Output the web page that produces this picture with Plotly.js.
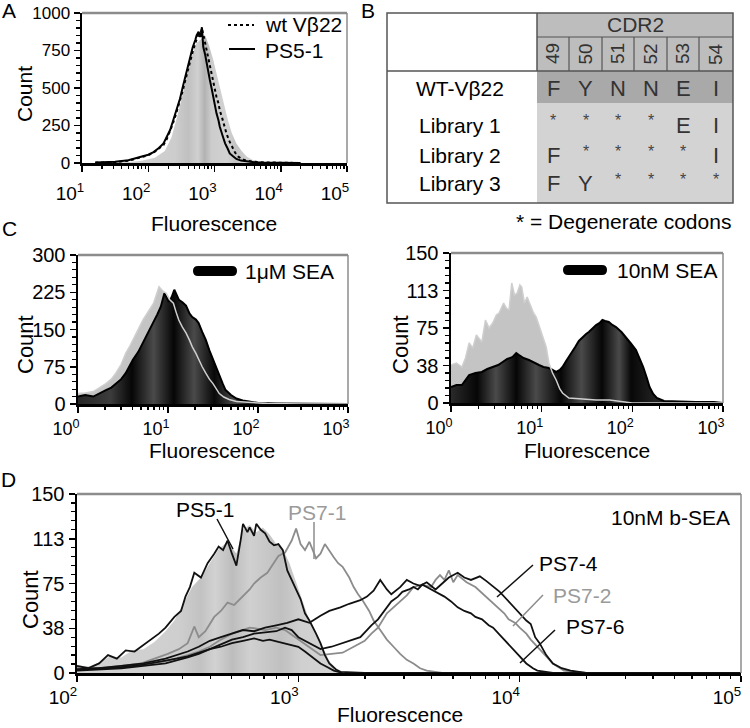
<!DOCTYPE html>
<html><head><meta charset="utf-8">
<script src="https://cdn.plot.ly/plotly-3.0.1.min.js"></script>
<style>html,body{margin:0;padding:0;background:#fff}#chart{width:750px;height:728px}</style>
</head><body><div id="chart"></div>
<script>
// ---------- Panel A data (log10 fluorescence, count) ----------
const aGrayLog   = [1.3,1.5,1.7,1.9,2.1,2.25,2.35,2.45,2.55,2.65,2.73,2.8,2.86,2.92,2.98,3.04,3.1,3.15,3.2,3.26,3.33,3.41,3.49,3.58,3.69,3.85,4.0,4.2];
const aGrayCount = [1,3,6,15,35,80,170,330,520,700,800,830,850,780,690,580,465,375,290,200,130,80,42,20,9,3,1,0];
const aWtLog   = [1.2,1.5,1.7,1.88,2.0,2.08,2.16,2.23,2.28,2.33,2.37,2.41,2.45,2.48,2.52,2.56,2.6,2.63,2.67,2.71,2.74,2.76,2.78,2.81,2.83,2.86,2.88,2.91,2.93,2.96,2.98,3.01,3.03,3.06,3.08,3.11,3.14,3.18,3.22,3.26,3.31,3.36,3.42,3.49,3.6,3.75,4.0,4.3];
const aWtCount = [2,6,15,38,52,69,95,120,160,209,260,313,370,415,480,553,620,687,740,798,830,864,840,898,860,798,740,687,630,575,530,487,440,398,350,309,260,198,150,109,70,42,25,15,8,4,1,0];
const aPs51Log   = [1.2,1.5,1.7,1.88,2.0,2.08,2.16,2.23,2.28,2.33,2.37,2.41,2.45,2.48,2.52,2.56,2.6,2.63,2.67,2.71,2.73,2.76,2.79,2.81,2.83,2.86,2.88,2.9,2.93,2.96,2.98,3.01,3.03,3.06,3.08,3.12,3.16,3.2,3.23,3.28,3.33,3.4,3.49,3.6,3.7,4.0,4.3];
const aPs51Count = [3,8,18,40,55,73,100,130,170,220,275,330,380,430,505,577,640,710,770,820,850,875,842,905,775,720,665,610,553,490,442,380,331,285,242,185,131,95,64,45,27,16,9,5,3,1,0];

// ---------- Panel C (left) data : 1 uM SEA ----------
const c1Log = [0.0,0.08,0.17,0.24,0.31,0.37,0.42,0.48,0.53,0.58,0.61,0.67,0.72,0.78,0.84,0.88,0.92,0.96,1.01,1.04,1.07,1.1,1.12,1.16,1.2,1.24,1.27,1.31,1.34,1.38,1.42,1.46,1.5,1.54,1.57,1.61,1.64,1.7,1.76,1.83,1.9,2.0,2.2,2.6,3.0];
const c1SeaCount = [15,18,15,22,28,33,41,50,62,78,89,105,123,142,163,180,196,223,206,215,230,218,210,205,198,182,175,170,163,145,129,108,89,70,55,40,28,18,11,7,5,2,1,0.5,0];
const c1CtrlLog = [0.0,0.08,0.17,0.24,0.31,0.37,0.42,0.48,0.53,0.58,0.61,0.67,0.72,0.78,0.84,0.88,0.9,0.94,0.98,1.02,1.06,1.09,1.12,1.16,1.2,1.24,1.27,1.31,1.34,1.38,1.42,1.46,1.5,1.54,1.57,1.62,1.68,1.76,1.9,2.1,2.5,3.0];
const c1CtrlCount = [21,22,25,33,41,50,62,80,102,118,129,150,169,186,203,225,236,228,223,210,203,185,169,155,143,128,115,102,89,75,62,50,41,30,21,14,9,5,3,1,0,0];

// ---------- Panel C (right) data : 10 nM SEA ----------
const c2CtrlLog = [0.0,0.06,0.12,0.16,0.2,0.24,0.28,0.31,0.34,0.38,0.42,0.46,0.5,0.53,0.56,0.58,0.61,0.64,0.67,0.7,0.73,0.76,0.78,0.81,0.84,0.88,0.91,0.94,0.99,1.02,1.05,1.08,1.12,1.16,1.2,1.23,1.3,1.45,1.6,1.75,1.85,2.0,3.0];
const c2CtrlCount = [38,40,36,45,60,55,68,64,61,83,75,80,88,90,96,100,95,93,120,108,110,118,116,100,106,96,90,86,73,64,56,40,30,23,14,10,5,4,3,3,2,0,0];
const c2SeaLog = [0.0,0.06,0.12,0.2,0.27,0.34,0.4,0.46,0.52,0.57,0.62,0.68,0.72,0.75,0.8,0.86,0.92,0.97,1.02,1.08,1.12,1.16,1.2,1.23,1.27,1.3,1.34,1.37,1.41,1.45,1.49,1.52,1.56,1.6,1.64,1.67,1.7,1.74,1.78,1.82,1.88,1.93,1.98,2.04,2.08,2.12,2.16,2.19,2.23,2.27,2.35,2.5,2.7,2.9,3.0];
const c2SeaCount = [16,18,18,28,30,31,34,36,38,41,44,46,50,48,45,43,40,38,36,35,33,31,33,36,42,46,51,56,62,66,69,71,75,78,80,83,82,81,78,76,71,66,60,53,45,36,25,16,9,5,2,1.5,1,1,0];

// ---------- Panel D data : 10 nM b-SEA ----------
const dGrayLog   = [2.0,2.05,2.1,2.15,2.2,2.25,2.3,2.35,2.4,2.44,2.48,2.52,2.56,2.6,2.64,2.68,2.72,2.75,2.78,2.81,2.84,2.87,2.9,2.93,2.96,2.99,3.02,3.05,3.08,3.11,3.14,3.17,3.2,3.3];
const dGrayCount = [7,5,9,14,13,19,20,26,35,44,58,72,80,92,104,110,100,120,124,118,122,116,108,104,92,76,60,44,34,22,10,4,1,0];
const dPs51Log   = [2.0,2.05,2.1,2.14,2.18,2.22,2.26,2.29,2.33,2.37,2.4,2.44,2.47,2.49,2.51,2.53,2.56,2.59,2.62,2.64,2.66,2.68,2.7,2.72,2.74,2.75,2.77,2.78,2.8,2.81,2.83,2.85,2.87,2.89,2.91,2.93,2.95,2.97,2.99,3.01,3.03,3.05,3.08,3.1,3.12,3.14,3.17,3.19,3.3,5.0];
const dPs51Count = [6,4,8,15,12,19,18,22,27,33,38,47,52,64,72,84,80,92,100,106,103,111,100,90,112,125,118,122,115,125,120,117,110,107,108,103,86,78,70,62,50,44,33,25,15,8,3,1,0,0];
const dPs71Log   = [2.0,2.1,2.2,2.29,2.35,2.41,2.46,2.5,2.53,2.55,2.58,2.62,2.65,2.68,2.71,2.75,2.78,2.8,2.83,2.86,2.88,2.91,2.94,2.97,2.99,3.01,3.03,3.05,3.08,3.1,3.12,3.14,3.16,3.18,3.2,3.23,3.25,3.27,3.29,3.32,3.34,3.37,3.4,3.43,3.46,3.49,3.52,3.55,3.58,3.65];
const dPs71Count = [5,4,6,8,12,16,20,25,39,30,35,47,52,59,57,64,70,75,80,84,90,98,101,111,121,108,103,110,96,100,108,102,97,92,89,80,72,66,61,52,44,36,28,22,16,11,8,4,2,0];
const dPs74Log   = [2.0,2.1,2.2,2.3,2.4,2.5,2.55,2.6,2.65,2.7,2.75,2.8,2.85,2.9,2.95,3.0,3.05,3.1,3.14,3.19,3.23,3.28,3.31,3.34,3.37,3.4,3.42,3.46,3.49,3.52,3.55,3.58,3.62,3.65,3.68,3.72,3.75,3.78,3.82,3.85,3.87,3.91,3.94,3.96,4.0,4.03,4.05,4.07,4.09,4.12,4.15,4.19,4.23,4.3];
const dPs74Count = [3,4,6,8,12,18,22,27,30,33,36,35,38,40,42,45,42,48,52,55,58,61,64,69,78,70,66,72,78,75,73,76,70,75,80,84,80,78,81,77,74,68,62,58,50,44,41,30,25,15,8,4,2,0];
const dPs72Log   = [2.0,2.1,2.2,2.3,2.4,2.5,2.55,2.6,2.65,2.7,2.75,2.78,2.82,2.85,2.9,2.94,2.97,3.0,3.05,3.1,3.15,3.2,3.25,3.3,3.33,3.36,3.4,3.43,3.46,3.49,3.52,3.56,3.6,3.62,3.64,3.66,3.68,3.7,3.72,3.76,3.8,3.83,3.85,3.88,3.9,3.93,3.95,3.98,4.0,4.03,4.05,4.08,4.1,4.13,4.15,4.2,4.3];
const dPs72Count = [3,4,5,7,10,15,18,22,28,33,36,38,37,36,38,36,32,28,22,15,16,17,22,27,33,38,50,55,60,65,72,74,72,78,82,78,86,76,82,76,72,67,63,58,55,50,45,42,38,33,28,22,18,12,8,2,0];
const dPs76Log   = [2.0,2.1,2.2,2.3,2.4,2.5,2.55,2.6,2.65,2.7,2.75,2.8,2.85,2.9,2.94,2.97,3.0,3.05,3.1,3.15,3.2,3.25,3.28,3.31,3.33,3.36,3.38,3.4,3.42,3.45,3.47,3.5,3.52,3.54,3.56,3.58,3.6,3.63,3.66,3.69,3.72,3.75,3.78,3.8,3.83,3.86,3.88,3.91,3.93,3.96,3.98,4.01,4.03,4.06,4.08,4.15];
const dPs76Count = [2,3,4,6,8,13,16,20,24,28,30,33,34,35,38,36,30,25,20,22,25,28,30,36,40,45,50,55,60,64,68,70,72,70,74,72,70,67,64,60,55,52,50,47,45,40,38,32,28,22,18,12,8,4,2,0];
const dLowLog    = [2.0,2.1,2.2,2.3,2.4,2.45,2.5,2.55,2.6,2.65,2.7,2.75,2.8,2.84,2.87,2.91,2.95,3.0,3.03,3.06,3.1,3.13,3.16,3.2];
const dLowCount  = [3,4,5,7,10,12,14,17,20,22,25,27,29,27,28,26,24,22,18,14,8,5,2,0];

// ---------- Table (panel B) ----------
const cdrPositions = ['49','50','51','52','53','54'];
const rowLabels = ['WT-Vβ22','Library 1','Library 2','Library 3'];
const rowResidues = [
  ['F','Y','N','N','E','I'],
  ['*','*','*','*','E','I'],
  ['F','*','*','*','*','I'],
  ['F','Y','*','*','*','*']
];

// ---------- tick labels ----------
const tickA = [10,100,1000,10000,100000], tickAText = ['10<sup>1</sup>','10<sup>2</sup>','10<sup>3</sup>','10<sup>4</sup>','10<sup>5</sup>'];
const tickC = [1,10,100,1000], tickCText = ['10<sup>0</sup>','10<sup>1</sup>','10<sup>2</sup>','10<sup>3</sup>'];
const tickD = [100,1000,10000,100000], tickDText = ['10<sup>2</sup>','10<sup>3</sup>','10<sup>4</sup>','10<sup>5</sup>'];
const yTickA = [0,250,500,750,1000];
const yTickC1 = [0,75,150,225,300];
const yTick150 = [0,37.5,75,112.5,150], yTick150Text = ['0','38','75','113','150'];

// ---------- helpers ----------
const W = 750, H = 728;
const FONT = 'Liberation Sans, Arial, sans-serif';
const px = v => v / W;
const py = v => 1 - v / H;
const lin = e => e.map(v => Math.pow(10, v));

function xAx(d0, d1, range, anchor, tv, tt, size, shift, standoff) {
  return {domain:[px(d0), px(d1)], type:'log', range, anchor, tickmode:'array', tickvals:tv, ticktext:tt,
    ticks:'outside', ticklen:6, tickwidth:1.5, tickcolor:'#000', showline:true, linecolor:'#000', linewidth:2.5,
    showgrid:false, zeroline:false, fixedrange:true,
    minor:{ticks:'outside', ticklen:3.5, tickwidth:1.2, tickcolor:'#000', dtick:'D1', showgrid:false},
    tickfont:{family:FONT, size, color:'#000'}, ticklabelshift:shift, ticklabelstandoff:standoff};
}
function yAx(d0, d1, range, anchor, tv, tt, minorStep, size) {
  return {domain:[py(d1), py(d0)], range, anchor, tickmode:'array', tickvals:tv, ticktext:tt,
    ticks:'outside', ticklen:6, tickwidth:1.5, tickcolor:'#000', showline:true, linecolor:'#000', linewidth:2.5,
    showgrid:false, zeroline:false, fixedrange:true,
    minor:{ticks:'outside', ticklen:3.5, tickwidth:1.2, tickcolor:'#000', dtick:minorStep, showgrid:false},
    tickfont:{family:FONT, size, color:'#000'}};
}

const traces = [];
// Panel A
traces.push({x:lin(aGrayLog), y:aGrayCount, xaxis:'x', yaxis:'y', type:'scatter', mode:'lines', line:{width:0, color:'rgba(0,0,0,0)'},
  fill:'tozeroy', fillcolor:'#cfcfcf',
  fillgradient:{type:'horizontal', colorscale:[[0,'#d4d4d4'],[0.38,'#cdcdcd'],[0.45,'#c0c0c0'],[0.5,'#d0d0d0'],[0.535,'#b2b2b2'],[0.57,'#cccccc'],[0.65,'#d2d2d2'],[0.7,'#c3c3c3'],[0.78,'#d4d4d4'],[1,'#d8d8d8']]},
  hoverinfo:'skip', showlegend:false});
traces.push({x:lin(aWtLog), y:aWtCount, xaxis:'x', yaxis:'y', type:'scatter', mode:'lines', line:{width:2, color:'#000', dash:'dot'}, showlegend:false, hoverinfo:'skip'});
traces.push({x:lin(aPs51Log), y:aPs51Count, xaxis:'x', yaxis:'y', type:'scatter', mode:'lines', line:{width:2, color:'#000'}, showlegend:false, hoverinfo:'skip'});

// Panel C left
traces.push({x:lin(c1CtrlLog), y:c1CtrlCount, xaxis:'x2', yaxis:'y2', type:'scatter', mode:'lines', line:{width:0, color:'rgba(0,0,0,0)'}, fill:'tozeroy', fillcolor:'#c4c4c4', hoverinfo:'skip', showlegend:false});
traces.push({x:lin(c1Log), y:c1SeaCount, xaxis:'x2', yaxis:'y2', type:'scatter', mode:'lines', line:{width:2, color:'#000'}, fill:'tozeroy', fillcolor:'#222',
  fillgradient:{type:'horizontal', colorscale:[[0,'#262626'],[0.12,'#3c3c3c'],[0.2,'#060606'],[0.28,'#4a4a4a'],[0.355,'#060606'],[0.43,'#4a4a4a'],[0.505,'#080808'],[0.58,'#4a4a4a'],[0.66,'#111111'],[1,'#111111']]},
  hoverinfo:'skip', showlegend:false});
traces.push({x:lin(c1CtrlLog), y:c1CtrlCount, xaxis:'x2', yaxis:'y2', type:'scatter', mode:'lines', line:{width:1.5, color:'#cfcfcf'}, hoverinfo:'skip', showlegend:false});

// Panel C right
traces.push({x:lin(c2CtrlLog), y:c2CtrlCount, xaxis:'x3', yaxis:'y3', type:'scatter', mode:'lines', line:{width:0, color:'rgba(0,0,0,0)'}, fill:'tozeroy', fillcolor:'#c4c4c4', hoverinfo:'skip', showlegend:false});
traces.push({x:lin(c2SeaLog), y:c2SeaCount, xaxis:'x3', yaxis:'y3', type:'scatter', mode:'lines', line:{width:2, color:'#000'}, fill:'tozeroy', fillcolor:'#222',
  fillgradient:{type:'horizontal', colorscale:[[0,'#2a2a2a'],[0.096,'#060606'],[0.165,'#4a4a4a'],[0.24,'#060606'],[0.3125,'#4a4a4a'],[0.404,'#060606'],[0.48,'#4a4a4a'],[0.555,'#060606'],[0.618,'#4a4a4a'],[0.662,'#080808'],[0.75,'#222222'],[1,'#111111']]},
  hoverinfo:'skip', showlegend:false});
traces.push({x:lin(c2CtrlLog), y:c2CtrlCount, xaxis:'x3', yaxis:'y3', type:'scatter', mode:'lines', line:{width:1.5, color:'#cfcfcf'}, hoverinfo:'skip', showlegend:false});

// Panel D
traces.push({x:lin(dGrayLog), y:dGrayCount, xaxis:'x4', yaxis:'y4', type:'scatter', mode:'lines', line:{width:0, color:'rgba(0,0,0,0)'}, fill:'tozeroy', fillcolor:'#cccccc',
  fillgradient:{type:'horizontal', colorscale:[[0,'#d2d2d2'],[0.35,'#cfcfcf'],[0.43,'#c2c2c2'],[0.48,'#d2d2d2'],[0.54,'#bdbdbd'],[0.6,'#d0d0d0'],[0.71,'#c0c0c0'],[0.78,'#d0d0d0'],[1,'#d4d4d4']]},
  hoverinfo:'skip', showlegend:false});
const dLine = (xl, yc, col) => ({x:lin(xl), y:yc, xaxis:'x4', yaxis:'y4', type:'scatter', mode:'lines', line:{width:1.8, color:col}, hoverinfo:'skip', showlegend:false});
traces.push(dLine(dPs71Log, dPs71Count, '#8c8c8c'));
traces.push(dLine(dPs72Log, dPs72Count, '#8c8c8c'));
traces.push(dLine(dLowLog, dLowCount, '#111'));
traces.push(dLine(dPs76Log, dPs76Count, '#111'));
traces.push(dLine(dPs74Log, dPs74Count, '#111'));
traces.push(dLine(dPs51Log, dPs51Count, '#111'));

// ---------- shapes ----------
const shapes = [];
const seg = (x0,y0,x1,y1,color,width,dash) => shapes.push({type:'line', xref:'paper', yref:'paper', x0:px(x0), y0:py(y0), x1:px(x1), y1:py(y1), line:{color, width, dash:dash||'solid'}});
const box = (x0,y0,x1,y1,fill) => shapes.push({type:'rect', xref:'paper', yref:'paper', x0:px(x0), y0:py(y0), x1:px(x1), y1:py(y1), fillcolor:fill, line:{width:0}, layer:'below'});
// gray top/right frames
[[82,13,347,163],[78,255,348,404],[451,253,723,403],[77,494,741,673]].forEach(([l,t,r,b]) => {
  seg(l,t,r,t,'#8c8c8c',2.5);
  seg(r,t,r,b,'#8c8c8c',1.5);
});
// A legend samples
seg(228,25,254,25,'#000',2,'dot');
seg(229,49,255,49,'#000',2);
// C legend bars (rounded)
function pill(x0,x1,yc,h){
  const r = h/2;
  const P = (x,y) => px(x)+','+py(y);
  shapes.push({type:'path', xref:'paper', yref:'paper', fillcolor:'#000', line:{width:0},
    path:'M'+P(x0+r,yc-r)+' L'+P(x1-r,yc-r)+' Q'+P(x1,yc-r)+' '+P(x1,yc)+' Q'+P(x1,yc+r)+' '+P(x1-r,yc+r)+' L'+P(x0+r,yc+r)+' Q'+P(x0,yc+r)+' '+P(x0,yc)+' Q'+P(x0,yc-r)+' '+P(x0+r,yc-r)+' Z'});
}
pill(193,237,271,10);
pill(563,607,270,10);
// D leader lines
seg(217,519,233,549,'#111',1.5);
seg(314,522,314,559,'#8c8c8c',1.5);
seg(533,565,497,597,'#111',1.5);
seg(543,595,513,626,'#8c8c8c',1.5);
seg(555,630,520,663,'#111',1.5);

// Table
const tL=387, tT=13, tR=733, tB=203, cL=537, hMid=37, hBot=71, wtBot=103;
const colEdges=[537,569,602,634,667,699,733];
const rowY=[88,125,155,183];
box(cL,tT,tR,hBot,'#bdbdbd');
box(cL,hBot,tR,wtBot,'#a9a9a9');
box(cL,wtBot,tR,tB,'#d3d3d3');
shapes.push({type:'rect', xref:'paper', yref:'paper', x0:px(tL), y0:py(tT), x1:px(tR), y1:py(tB), line:{color:'#555', width:1.5}});
seg(tL,hBot,tR,hBot,'#555',1.5);
seg(cL,tT,cL,hBot,'#555',1.5);
seg(cL,hMid,tR,hMid,'#555',1.2);
colEdges.slice(1,-1).forEach(x => seg(x,hMid,x,hBot,'#555',1.2));

// ---------- annotations ----------
const ann = [];
const txt = (x,y,text,size,opts) => ann.push(Object.assign({xref:'paper', yref:'paper', x:px(x), y:py(y), text, showarrow:false,
  xanchor:'center', yanchor:'middle', font:{family:FONT, size, color:'#000'}}, opts||{}));
// panel letters
txt(9,11,'A',21); txt(368,11,'B',21); txt(9,228,'C',21); txt(8,479,'D',21);
// axis titles
txt(25,94,'Count',21,{textangle:-90});
txt(214,223,'Fluorescence',21);
txt(25,345,'Count',22,{textangle:-90});
txt(212,450,'Fluorescence',21);
txt(400,345,'Count',22,{textangle:-90});
txt(587,450,'Fluorescence',21);
txt(30,600,'Count',22,{textangle:-90});
txt(400,714,'Fluorescence',21);
// legends
txt(263,25,'wt Vβ22',21,{xanchor:'left'});
txt(263,51,'PS5-1',21,{xanchor:'left'});
txt(243,271,'1μM SEA',21,{xanchor:'left'});
txt(615,270,'10nM SEA',21,{xanchor:'left'});
// D labels
txt(205,510,'PS5-1',21);
txt(317,512,'PS7-1',21,{font:{family:FONT,size:21,color:'#9a9a9a'}});
txt(568,563,'PS7-4',21);
txt(582,595,'PS7-2',21,{font:{family:FONT,size:21,color:'#9a9a9a'}});
txt(595,626,'PS7-6',21);
txt(732,517,'10nM b-SEA',21,{xanchor:'right'});
// table texts
txt((cL+tR)/2,25,'CDR2',21,{font:{family:FONT,size:21,color:'#333'}});
cdrPositions.forEach((p,i) => txt((colEdges[i]+colEdges[i+1])/2,54,p,19,{textangle:-90, font:{family:FONT,size:19,color:'#333'}}));
rowLabels.forEach((lab,r) => {
  txt(460,rowY[r],lab,21);
  rowResidues[r].forEach((res,c) => {
    const cx=(colEdges[c]+colEdges[c+1])/2;
    if (res === '*') txt(cx,rowY[r]-4,res,16,{font:{family:FONT,size:16,color:'#444'}});
    else txt(cx,rowY[r],res,22,{font:{family:FONT,size:22,color:'#333'}});
  });
});
txt(733,221,'* = Degenerate codons',21,{xanchor:'right'});

const layout = {
  width:W, height:H, margin:{l:0,r:0,t:0,b:0}, paper_bgcolor:'#fff', plot_bgcolor:'rgba(0,0,0,0)',
  showlegend:false, font:{family:FONT, color:'#000'},
  xaxis: xAx(82,347,[1,5],'y',tickA,tickAText,19,-12,6),
  yaxis: yAx(13,163,[0,1000],'x',yTickA,yTickA.map(String),50,17),
  xaxis2: xAx(78,348,[0,3],'y2',tickC,tickCText,18,-12,1),
  yaxis2: yAx(255,404,[0,300],'x2',yTickC1,yTickC1.map(String),15,20),
  xaxis3: xAx(451,723,[0,3],'y3',tickC,tickCText,18,-12,1),
  yaxis3: yAx(253,403,[0,150],'x3',yTick150,yTick150Text,7.5,20),
  xaxis4: xAx(77,741,[2,5],'y4',tickD,tickDText,19,-14,0),
  yaxis4: yAx(494,673,[0,150],'x4',yTick150,yTick150Text,7.5,20),
  shapes, annotations:ann
};
Plotly.newPlot('chart', traces, layout, {staticPlot:true, displayModeBar:false});
</script></body></html>
